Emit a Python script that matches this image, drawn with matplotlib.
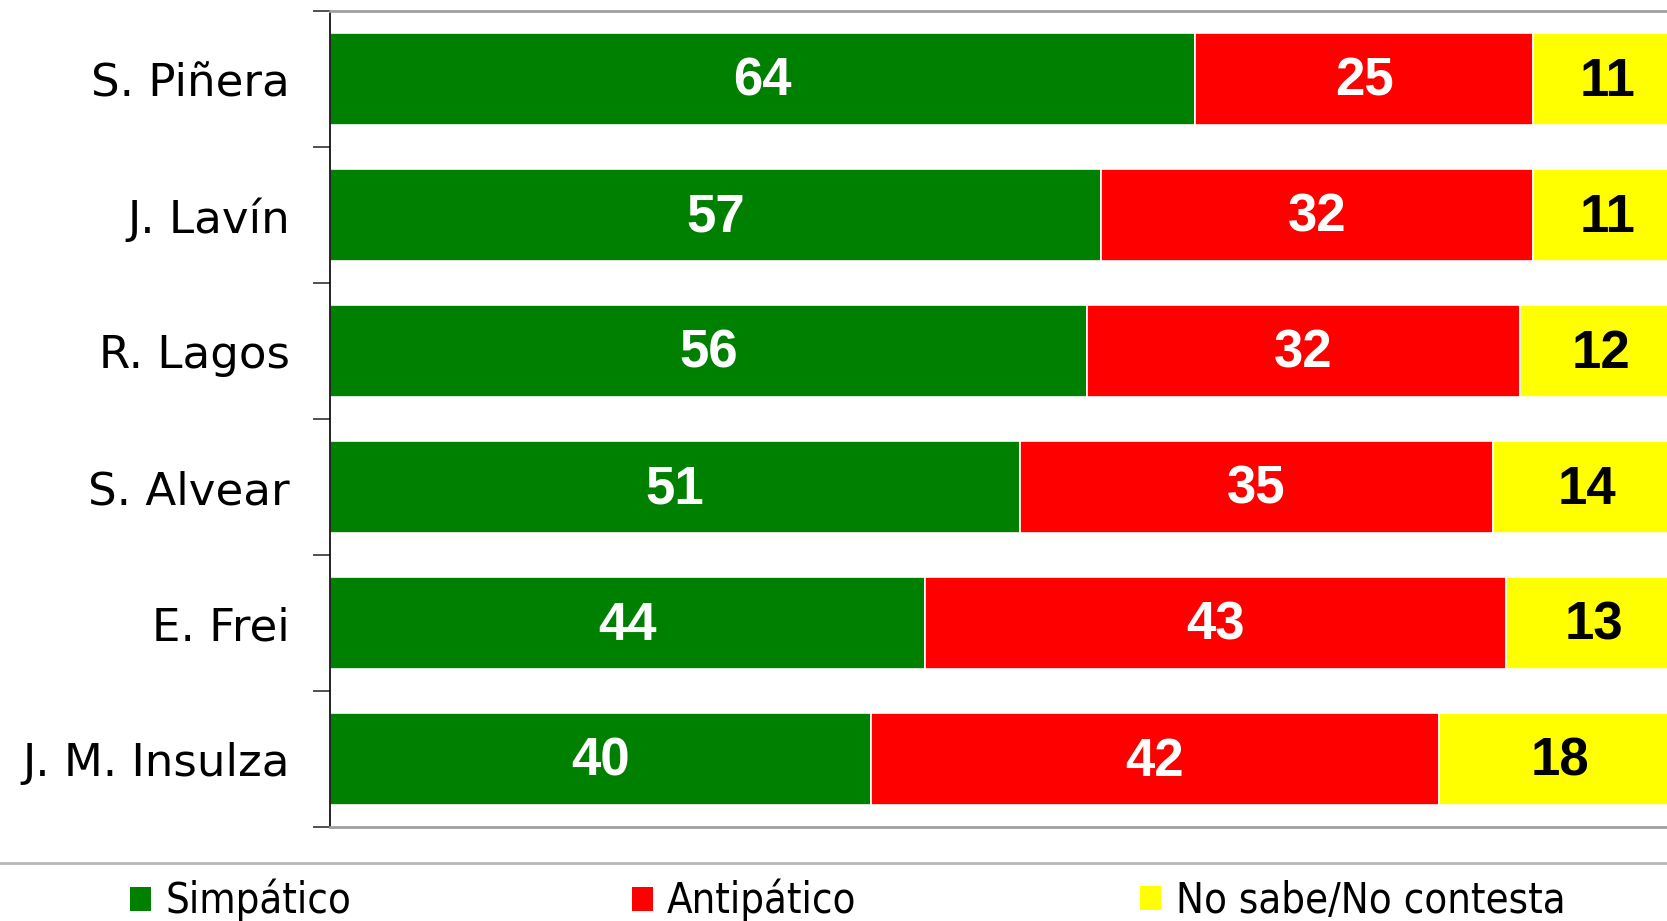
import matplotlib
matplotlib.use('Agg')
import matplotlib.pyplot as plt
from matplotlib.patches import Patch
from matplotlib.lines import Line2D
import numpy as np

cats = ['S. Piñera', 'J. Lavín', 'R. Lagos', 'S. Alvear', 'E. Frei', 'J. M. Insulza']
simpatico = [64, 57, 56, 51, 44, 40]
antipatico = [25, 32, 32, 35, 43, 42]
no_sabe = [11, 11, 12, 14, 13, 18]

series = [('Simpático', simpatico, '#008000', 'white'),
          ('Antipático', antipatico, '#ff0000', 'white'),
          ('No sabe/No contesta', no_sabe, '#ffff00', 'black')]

fig = plt.figure(figsize=(16.67, 9.21), dpi=100)
# plot area runs a little past the right edge of the picture
ax = fig.add_axes([0.198, 0.102, 0.811, 0.886])

y = np.arange(len(cats))
left = np.zeros(len(cats))
for name, vals, col, tcol in series:
    vals = np.array(vals)
    bars = ax.barh(y, vals, left=left, height=0.67, color=col,
                   edgecolor='white', linewidth=1.2)
    for b, v in zip(bars, vals):
        ax.annotate(str(v), (b.get_x() + b.get_width() / 2, b.get_y() + b.get_height() / 2),
                    xytext=(0, 2), textcoords='offset points',
                    ha='center', va='center_baseline', color=tcol,
                    fontsize=38, fontweight='bold', family='Liberation Sans')
    left += vals

ax.set_xlim(0, 100)
ax.set_ylim(len(cats) - 0.5, -0.5)
ax.set_xticks([])

# labels at bar centres, tick marks at category boundaries
ax.set_yticks(y)
ax.set_yticklabels(cats, fontsize=32.5)
ax.tick_params(axis='y', which='major', length=0, pad=29)
ax.set_yticks(np.arange(-0.5, len(cats)), minor=True)
ax.tick_params(axis='y', which='minor', length=12, width=1.2, color='#333333')

ax.spines['right'].set_visible(False)
ax.spines['left'].set_color('black')
ax.spines['left'].set_linewidth(1.2)
ax.spines['top'].set_color('#a0a0a0')
ax.spines['top'].set_linewidth(2)
ax.spines['bottom'].set_color('#a0a0a0')
ax.spines['bottom'].set_linewidth(2)

# separator above legend
fig.add_artist(Line2D([0, 1], [0.063, 0.063], transform=fig.transFigure,
                      color='#b8b8b8', linewidth=2))

xs = [0.078, 0.379, 0.684]
for (name, vals, col, tcol), x in zip(series, xs):
    fig.legend(handles=[Patch(facecolor=col, edgecolor='none')], labels=[name],
               loc='center left', bbox_to_anchor=(x, 0.022), frameon=False,
               prop={'size': 30, 'stretch': 'condensed'},
               handlelength=0.5, handleheight=0.5, handletextpad=0.35,
               borderpad=0, borderaxespad=0)

fig.savefig('out.png', dpi=100)
